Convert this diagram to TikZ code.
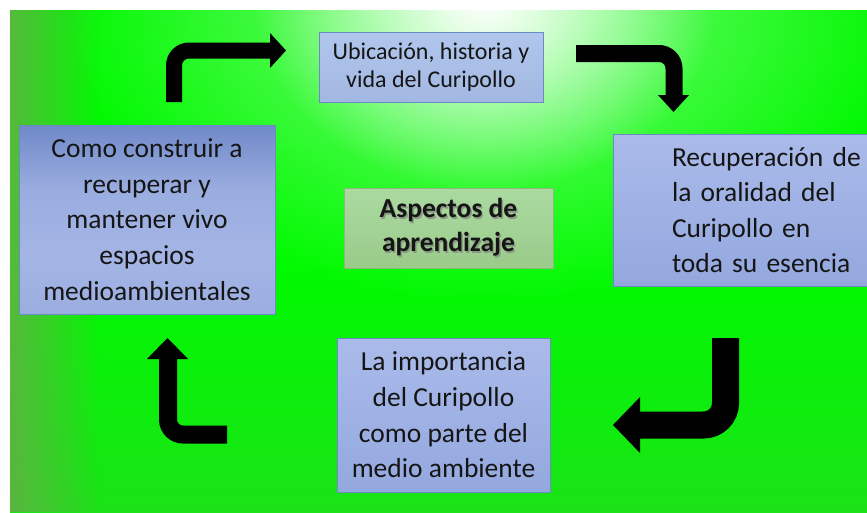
\documentclass[tikz,border=0pt]{standalone}
\usepackage{fontspec}
\setmainfont{Carlito}
\usetikzlibrary{fadings}
\definecolor{txt}{HTML}{151515}
\definecolor{g0}{HTML}{42C232}
\definecolor{g1}{HTML}{14E812}
\definecolor{g2}{HTML}{00FA00}
\definecolor{g3}{HTML}{04F804}
\definecolor{g4}{HTML}{14F014}
\definecolor{gleft}{HTML}{6AAA4A}
\definecolor{bord}{HTML}{6A8BC6}
\definecolor{lb1}{HTML}{8CA2D8}
\definecolor{lb2}{HTML}{A4B5E5}
\definecolor{lb3}{HTML}{9AADE0}
\definecolor{lb4}{HTML}{5E7ABE}
\definecolor{lb5}{HTML}{37569E}
\definecolor{rbtop}{HTML}{AABBEA}
\definecolor{rbbot}{HTML}{94A8DF}
\definecolor{tbtop}{HTML}{B0C6EC}
\definecolor{tbbot}{HTML}{A2B8E2}
\definecolor{cgtop}{HTML}{AADAA0}
\definecolor{cgbot}{HTML}{9BCB8A}
\definecolor{cbord}{HTML}{8DB878}
\definecolor{shadowc}{HTML}{8A9A84}
\pgfdeclareverticalshading{bgshade}{100bp}{color(0bp)=(g0); color(30bp)=(g1); color(50bp)=(g2); color(80bp)=(g3); color(100bp)=(g4)}
\pgfdeclareverticalshading{leftshade}{100bp}{color(0bp)=(lb1); color(40bp)=(lb2); color(58bp)=(lb3); color(82bp)=(lb4); color(100bp)=(lb5)}
\tikzfading[name=glowfade, inner color=transparent!0, outer color=transparent!100]
\tikzfading[name=leftopaque, left color=transparent!0, right color=transparent!100]
\newcommand\shtxt[1]{\leavevmode\rlap{\kern1.4pt\raisebox{-1.4pt}{\textcolor{shadowc}{#1}}}#1}
\tikzset{
  box/.style={draw=bord, line width=0.8, text=txt, inner sep=0, align=center},
  bigtext/.style={font=\fontsize{27.5}{35.6}\selectfont},
  arrowbody/.style={draw=black, line cap=butt},
  arrowhead/.style={fill=black}
}
\begin{document}
\begin{tikzpicture}[x=1pt,y=-1pt]
\useasboundingbox (0,0) rectangle (867,512);
\clip (0,0) rectangle (867,512);
\fill[white] (0,0) rectangle (867,512);
% background
\shade[shading=bgshade] (10,10) rectangle (867,512);
\fill[gleft, path fading=leftopaque, fill opacity=0.8] (10,10) rectangle (100,512);
\begin{scope}
\clip (10,10) rectangle (867,512);
\fill[white, path fading=glowfade, fill opacity=0.5] (485,0) ellipse [x radius=420, y radius=300];
\fill[white, path fading=glowfade] (485,0) ellipse [x radius=230, y radius=190];
\end{scope}

% boxes
\node[box, top color=tbtop, bottom color=tbbot, minimum width=224, minimum height=70,
      font=\fontsize{24}{28}\selectfont] (ubic) at (431,67)
      {Ubicación, historia y\\vida del Curipollo};
\node[box, shading=leftshade, minimum width=256, minimum height=189, bigtext] (como) at (147,219.5)
      {Como construir a\\recuperar y\\mantener vivo\\espacios\\medioambientales};
\node[box, top color=rbtop, bottom color=rbbot, minimum width=318, minimum height=152,
      bigtext, text width=200, align=left] (recu) at (772,210)
      {Recuperación de\\la oralidad del\\Curipollo en\\toda su esencia};
\node[box, top color=rbtop, bottom color=rbbot, minimum width=213, minimum height=154, bigtext] (impo) at (443.5,415)
      {La importancia\\del Curipollo\\como parte del\\medio ambiente};
\node[box, draw=cbord, top color=cgtop, bottom color=cgbot, minimum width=209, minimum height=80,
      font=\fontsize{27.5}{34}\selectfont\bfseries] (asp) at (448.5,228)
      {\shtxt{Aspectos de}\\\shtxt{aprendizaje}};

% arrows
\coordinate (a1s) at (174,102);
\coordinate (a1e) at (271,50.5);
\draw[arrowbody, line width=16, rounded corners=15] (a1s) |- (a1e);
\fill[arrowhead] (270,33) -- (286,50.5) -- (270,68) -- cycle;

\coordinate (a2s) at (576,53.5);
\coordinate (a2e) at (674,96);
\draw[arrowbody, line width=17, rounded corners=15] (a2s) -| (a2e);
\fill[arrowhead] (658,95) -- (689,95) -- (673.5,112) -- cycle;

\coordinate (a3s) at (725.5,338);
\coordinate (a3e) at (639,425);
\draw[arrowbody, line width=27, rounded corners=22] (a3s) |- (a3e);
\fill[arrowhead] (640,397) -- (640,453) -- (613,425) -- cycle;

\coordinate (a4s) at (227,434.5);
\coordinate (a4e) at (168,358);
\draw[arrowbody, line width=18, rounded corners=15] (a4s) -| (a4e);
\fill[arrowhead] (147,359) -- (188,359) -- (167.5,338) -- cycle;
\end{tikzpicture}
\end{document}
